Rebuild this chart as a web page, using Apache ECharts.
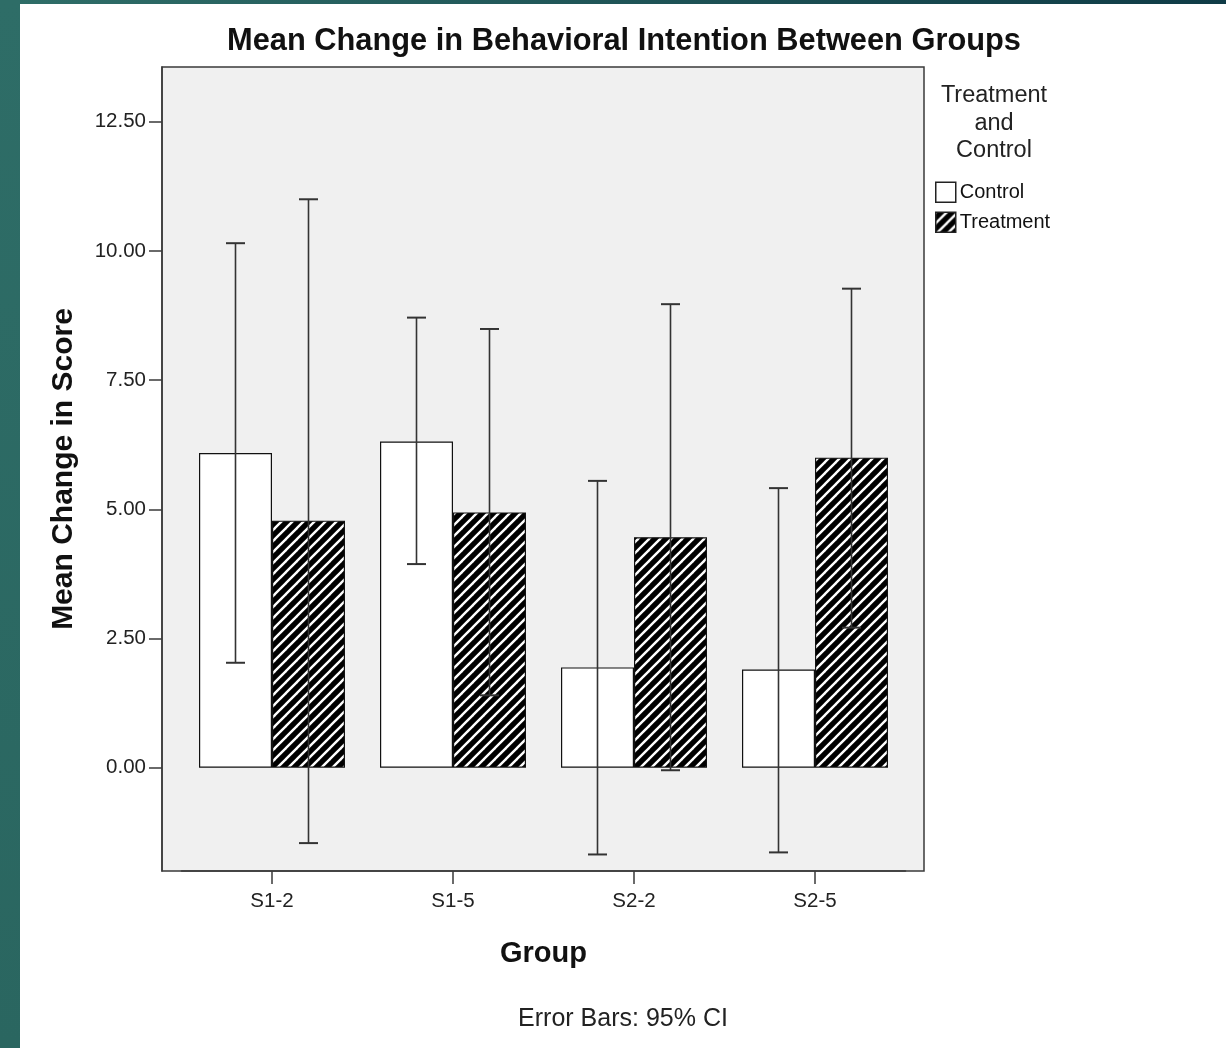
<!DOCTYPE html>
<html>
<head>
<meta charset="utf-8">
<script src="https://cdn.jsdelivr.net/npm/echarts@6/dist/echarts.min.js"></script>
<style>
html,body{margin:0;padding:0;background:#fff;}
#c{width:1226px;height:1048px;}
</style>
</head>
<body>
<div id="c"></div>
<script>
// ---- data ----
const categories = ['S1-2', 'S1-5', 'S2-2', 'S2-5'];
const seriesNames = ['Control', 'Treatment'];
const controlMean = [6.09, 6.31, 1.94, 1.90];
const controlLow  = [2.03, 3.94, -1.68, -1.64];
const controlHigh = [10.15, 8.71, 5.55, 5.41];
const treatMean   = [4.78, 4.94, 4.46, 6.00];
const treatLow    = [-1.46, 1.40, -0.05, 2.71];
const treatHigh   = [11.00, 8.49, 8.97, 9.27];
const yTicks = [0, 2.5, 5, 7.5, 10, 12.5];
const yMin = -2.0, yMax = 13.56;

// ---- hatch pattern ----
function makeHatch() {
  const p = 11;
  const c = document.createElement('canvas');
  c.width = p; c.height = p;
  const ctx = c.getContext('2d');
  ctx.fillStyle = '#000';
  ctx.fillRect(0, 0, p, p);
  ctx.strokeStyle = '#fff';
  ctx.lineWidth = 2.4;
  [0, p, 2 * p].forEach(k => {
    ctx.beginPath();
    ctx.moveTo(k - p - 1, p + 1);
    ctx.lineTo(k + 1, -1);
    ctx.stroke();
  });
  return c;
}
const hatch = { image: makeHatch(), repeat: 'repeat' };

const FONT = '"Liberation Sans", Arial, Helvetica, sans-serif';
const BAR_W = 73;

const errData = [];
categories.forEach((c, i) => {
  errData.push([i, controlLow[i], controlHigh[i], 0]);
  errData.push([i, treatLow[i], treatHigh[i], 1]);
});

const chart = echarts.init(document.getElementById('c'), null, { renderer: 'canvas' });

const option = {
  backgroundColor: '#ffffff',
  animation: false,
  graphic: [
    {
      type: 'rect', left: 0, top: 0, z: -10,
      shape: { width: 1226, height: 4 },
      style: { fill: new echarts.graphic.LinearGradient(0, 0, 1, 0, [
        { offset: 0, color: '#2f6e68' }, { offset: 1, color: '#0f3b46' }]) }
    },
    {
      type: 'rect', left: 0, top: 0, z: -10,
      shape: { width: 20, height: 1048 },
      style: { fill: new echarts.graphic.LinearGradient(0, 0, 0, 1, [
        { offset: 0, color: '#2e6d67' }, { offset: 1, color: '#2a6660' }]) }
    }
  ],
  title: [
    {
      text: 'Mean Change in Behavioral Intention Between Groups',
      left: 624, top: 26, textAlign: 'center', padding: 0,
      textStyle: { fontFamily: FONT, fontSize: 30.8, fontWeight: 'bold', color: '#111', lineHeight: 32 }
    },
    {
      text: 'Treatment\nand\nControl',
      left: 994, top: 82, textAlign: 'center', padding: 0,
      textStyle: { fontFamily: FONT, fontSize: 23.5, fontWeight: 'normal', color: '#222', lineHeight: 27.5 }
    },
    {
      text: 'Error Bars: 95% CI',
      left: 623, top: 1005, textAlign: 'center', padding: 0,
      textStyle: { fontFamily: FONT, fontSize: 25, fontWeight: 'normal', color: '#222', lineHeight: 28 }
    }
  ],
  legend: {
    orient: 'vertical',
    left: 935, top: 181.5, padding: 0,
    itemWidth: 20, itemHeight: 20, itemGap: 8.5,
    icon: 'rect',
    selectedMode: false,
    textStyle: { fontFamily: FONT, fontSize: 20, color: '#111', padding: [0, 0, 0, -1] },
    data: [
      { name: 'Control', itemStyle: { color: '#fff', borderColor: '#222', borderWidth: 1.5 } },
      { name: 'Treatment', itemStyle: { color: hatch, borderColor: '#222', borderWidth: 1.5 } }
    ]
  },
  grid: [
    { left: 162, right: 302, top: 67, bottom: 177, show: true, backgroundColor: '#f0f0f0',
      borderColor: '#3a3a3a', borderWidth: 1.5, containLabel: false },
    { left: 181.5, right: 320.5, top: 67, bottom: 177, containLabel: false }
  ],
  xAxis: [
    { gridIndex: 0, type: 'value', min: 0, max: 1, show: false },
    {
      gridIndex: 1, type: 'category', data: categories, position: 'bottom',
      axisLine: { show: true, onZero: false, lineStyle: { color: '#3a3a3a', width: 1.5 } },
      axisTick: { show: true, alignWithLabel: true, length: 13, lineStyle: { color: '#3a3a3a', width: 1.5 } },
      axisLabel: { margin: 20, fontFamily: FONT, fontSize: 20.5, color: '#222' },
      name: 'Group', nameLocation: 'middle', nameGap: 68,
      nameTextStyle: { fontFamily: FONT, fontSize: 29, fontWeight: 'bold', color: '#111' },
      splitLine: { show: false }
    }
  ],
  yAxis: [
    {
      gridIndex: 0, type: 'value', min: yMin, max: yMax,
      axisLine: { show: true, onZero: false, lineStyle: { color: '#3a3a3a', width: 1.5 } },
      axisTick: { show: true, length: 13, customValues: yTicks, lineStyle: { color: '#3a3a3a', width: 1.5 } },
      axisLabel: { margin: 16, customValues: yTicks, fontFamily: FONT, fontSize: 20.5, color: '#222',
        formatter: v => Number(v).toFixed(2) },
      splitLine: { show: false },
      name: 'Mean Change in Score', nameLocation: 'middle', nameGap: 83,
      nameTextStyle: { fontFamily: FONT, fontSize: 30, fontWeight: 'bold', color: '#111' }
    },
    { gridIndex: 1, type: 'value', min: yMin, max: yMax, show: false }
  ],
  series: [
    {
      name: 'Control', type: 'bar', xAxisIndex: 1, yAxisIndex: 1,
      barWidth: BAR_W, barGap: '0%',
      data: controlMean,
      itemStyle: { color: '#ffffff', borderColor: '#111', borderWidth: 1.2 },
      z: 2
    },
    {
      name: 'Treatment', type: 'bar', xAxisIndex: 1, yAxisIndex: 1,
      barWidth: BAR_W, barGap: '0%',
      data: treatMean,
      itemStyle: { color: hatch, borderColor: '#111', borderWidth: 1.2 },
      z: 2
    },
    {
      name: 'CI', type: 'custom', xAxisIndex: 1, yAxisIndex: 1, z: 5,
      data: errData,
      renderItem: function (params, api) {
        const x = api.value(0);
        const lo = api.coord([x, api.value(1)]);
        const hi = api.coord([x, api.value(2)]);
        const off = api.value(3) === 0 ? -BAR_W / 2 : BAR_W / 2;
        const cx = lo[0] + off;
        const cap = 9.5;
        const st = { stroke: '#333', lineWidth: 1.6 };
        return {
          type: 'group',
          children: [
            { type: 'line', shape: { x1: cx, y1: hi[1], x2: cx, y2: lo[1] }, style: st },
            { type: 'line', shape: { x1: cx - cap, y1: hi[1], x2: cx + cap, y2: hi[1] }, style: { stroke: '#333', lineWidth: 2 } },
            { type: 'line', shape: { x1: cx - cap, y1: lo[1], x2: cx + cap, y2: lo[1] }, style: { stroke: '#333', lineWidth: 2 } }
          ]
        };
      }
    }
  ]
};
chart.setOption(option);
</script>
</body>
</html>
